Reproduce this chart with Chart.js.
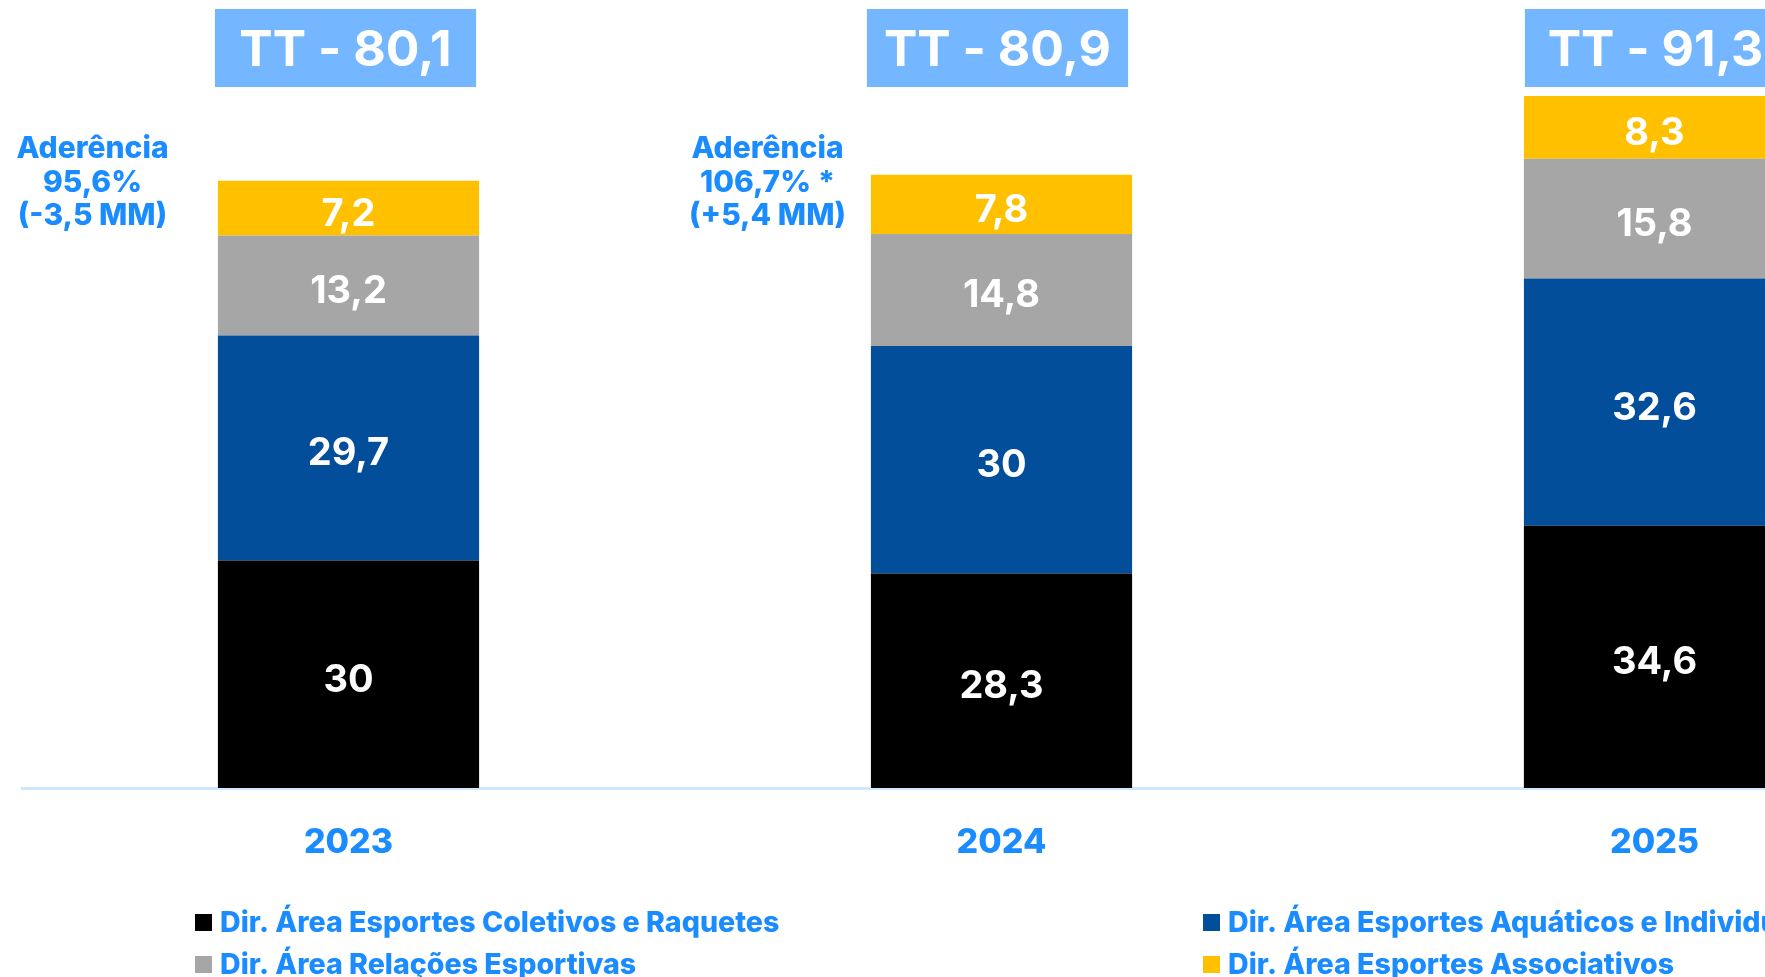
<!DOCTYPE html>
<html lang="pt-BR">
<head>
<meta charset="utf-8">
<title>Diretorias - 2023 a 2025</title>
<script src="https://cdn.jsdelivr.net/npm/chart.js@4.4.1/dist/chart.umd.min.js"></script>
<style>
  html, body { margin: 0; padding: 0; background: #fff; overflow: hidden; }
  #wrap { position: absolute; left: 0; top: 0; width: 2000px; height: 977px; }
</style>
</head>
<body>
<div id="wrap"><canvas id="grafico"></canvas></div>
<script>
// dados
const anos = ["2023", "2024", "2025"];
const coletivosRaquetes = [30, 28.3, 34.6];
const aquaticosIndividuais = [29.7, 30, 32.6];
const relacoesEsportivas = [13.2, 14.8, 15.8];
const associativos = [7.2, 7.8, 8.3];
const aderencia = [
  ["Aderência", "95,6%", "(-3,5 MM)"],
  ["Aderência", "106,7% *", "(+5,4 MM)"],
  null
];

const fonte = "Inter, 'Noto Sans', sans-serif";
const azulTexto = "#1a8cff";

function virgula(v) {
  return String(Math.round(v * 10) / 10).replace(".", ",");
}

// valores dentro das barras
const rotulosBarras = {
  id: "rotulosBarras",
  afterDatasetsDraw(chart) {
    const ctx = chart.ctx;
    ctx.save();
    ctx.fillStyle = "#fff";
    ctx.font = "700 38px " + fonte;
    ctx.textAlign = "center";
    ctx.textBaseline = "middle";
    chart.data.datasets.forEach((ds, i) => {
      chart.getDatasetMeta(i).data.forEach((bar, j) => {
        const p = bar.getProps(["x", "y", "base"], true);
        ctx.fillText(virgula(ds.data[j]), p.x, (p.y + p.base) / 2 + 6);
      });
    });
    ctx.restore();
  }
};

// caixas TT e textos de aderencia
const anotacoes = {
  id: "anotacoes",
  afterDraw(chart) {
    const ctx = chart.ctx;
    const meta = chart.getDatasetMeta(0);
    const desloc = [-256, -234, -240];
    const ajusteCaixa = [-3, -4, 1];
    ctx.save();
    meta.data.forEach((bar, j) => {
      const p = bar.getProps(["x", "width"], true);
      let total = 0;
      chart.data.datasets.forEach(ds => { total += ds.data[j]; });
      const cx = p.x + ajusteCaixa[j];
      ctx.fillStyle = "#74b6ff";
      ctx.fillRect(cx - p.width / 2, 9, p.width, 78);
      ctx.fillStyle = "#fff";
      ctx.font = "700 50px " + fonte;
      ctx.textAlign = "center";
      ctx.textBaseline = "middle";
      ctx.fillText("TT - " + virgula(total), cx, 51);

      if (aderencia[j]) {
        ctx.fillStyle = azulTexto;
        ctx.font = "800 30px " + fonte;
        aderencia[j].forEach((linha, k) => {
          ctx.fillText(linha, p.x + desloc[j], 149 + k * 33.5);
        });
      }
    });
    ctx.restore();
  }
};

// legenda em duas colunas
const legenda = {
  id: "legenda",
  afterDraw(chart) {
    const ctx = chart.ctx;
    const posicoes = [[195, 922], [1203, 922], [195, 964], [1203, 964]];
    ctx.save();
    ctx.font = "800 28.6px " + fonte;
    ctx.textAlign = "left";
    ctx.textBaseline = "middle";
    chart.data.datasets.forEach((ds, i) => {
      const [x, y] = posicoes[i];
      ctx.fillStyle = ds.backgroundColor;
      ctx.fillRect(x, y - 8, 17, 17);
      ctx.fillStyle = azulTexto;
      ctx.fillText(ds.label, x + 25, y + 1);
    });
    ctx.restore();
  }
};

const data = {
  labels: anos,
  datasets: [
    { label: "Dir. Área Esportes Coletivos e Raquetes", data: coletivosRaquetes, backgroundColor: "#000000" },
    { label: "Dir. Área Esportes Aquáticos e Individuais", data: aquaticosIndividuais, backgroundColor: "#024e9b" },
    { label: "Dir. Área Relações Esportivas", data: relacoesEsportivas, backgroundColor: "#a6a6a6" },
    { label: "Dir. Área Esportes Associativos", data: associativos, backgroundColor: "#ffc000" }
  ]
};

const config = {
  type: "bar",
  data: data,
  options: {
    responsive: true,
    maintainAspectRatio: false,
    animation: false,
    categoryPercentage: 0.4,
    barPercentage: 1,
    layout: { padding: { top: 30, left: 22, right: 19, bottom: 0 } },
    plugins: {
      legend: { display: false },
      tooltip: { enabled: false },
      title: { display: false }
    },
    scales: {
      x: {
        stacked: true,
        grid: { display: false, drawTicks: false },
        border: { display: true, color: "#cfe6ff", width: 3 },
        ticks: { color: azulTexto, font: { family: fonte, size: 34, weight: "800" }, padding: 34 },
        afterFit(scale) { scale.height = 189; }
      },
      y: {
        stacked: true,
        display: false,
        min: 0,
        max: 100
      }
    }
  },
  plugins: [rotulosBarras, anotacoes, legenda]
};

const myChart = new Chart(document.getElementById("grafico"), config);
</script>
</body>
</html>
